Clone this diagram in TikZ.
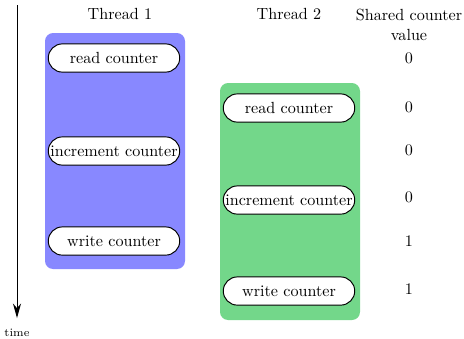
\documentclass[tikz,border=0pt]{standalone}
\usetikzlibrary{arrows.meta,shapes.misc}

\definecolor{threadblue}{RGB}{136,136,255}
\definecolor{threadgreen}{RGB}{115,215,138}

\tikzset{
  op/.style={rounded rectangle, draw, semithick, fill=white, inner sep=0pt,
    minimum width=81.5pt, minimum height=17.5pt},
  lane/.style={rounded corners=5pt},
}

\begin{document}
\begin{tikzpicture}[x=0.62pt, y=-0.62pt]
  \useasboundingbox (0,0) rectangle (464,338);
  % Time runs downwards along the left edge.
  \coordinate (t0) at (17,5);
  \coordinate (t1) at (17,318);
  \draw[semithick, -{Stealth[length=9pt,width=5pt]}] (t0) -- (t1);
  \node[font=\scriptsize] (time) at (17,333) {time};
  % Column heads.
  \node (head1) at (120,14) {Thread 1};
  \node (head2) at (289,14) {Thread 2};
  \node[align=center] (head3) at (409,25) {Shared counter\\value};
  % The two threads, the second one starting a little later.
  \fill[lane, threadblue] (45,33) rectangle (185,269);
  \fill[lane, threadgreen] (220,83) rectangle (360,320);
  \node[op] (r1) at (114,58) {read counter};
  \node[op] (i1) at (114,151) {increment counter};
  \node[op] (w1) at (114,241) {write counter};
  \node[op] (r2) at (289,108) {read counter};
  \node[op] (i2) at (289,200) {increment counter};
  \node[op] (w2) at (289,291) {write counter};
  % Value of the shared counter as time goes on.
  \node (v1) at (409,58) {0};
  \node (v2) at (409,107) {0};
  \node (v3) at (409,150) {0};
  \node (v4) at (409,197) {0};
  \node (v5) at (409,241) {1};
  \node (v6) at (409,289) {1};
\end{tikzpicture}
\end{document}
